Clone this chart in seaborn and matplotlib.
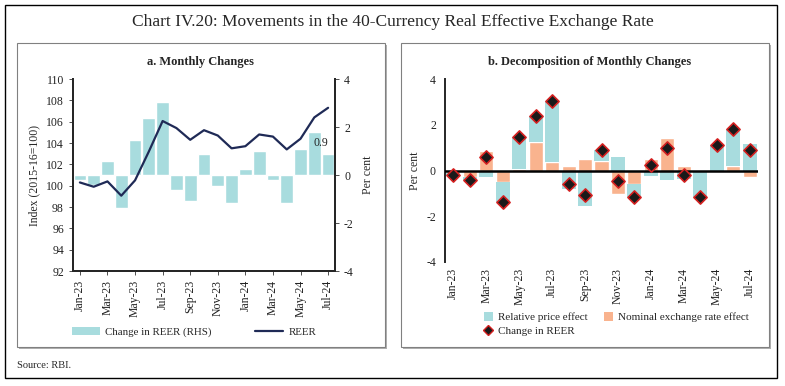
import numpy as np
import pandas as pd
import matplotlib
matplotlib.use("Agg")
import matplotlib.pyplot as plt
from matplotlib.patches import Rectangle
from matplotlib.lines import Line2D
from matplotlib.patches import Patch
import seaborn as sns

months = ["Jan-23", "Feb-23", "Mar-23", "Apr-23", "May-23", "Jun-23", "Jul-23",
          "Aug-23", "Sep-23", "Oct-23", "Nov-23", "Dec-23", "Jan-24", "Feb-24",
          "Mar-24", "Apr-24", "May-24", "Jun-24", "Jul-24"]
reer = [100.3, 99.9, 100.4, 99.06, 100.5, 103.2, 106.06, 105.4, 104.3, 105.2,
        104.7, 103.5, 103.7, 104.8, 104.6, 103.4, 104.4, 106.4, 107.3]
reer_change = [-0.2, -0.4, 0.58, -1.37, 1.47, 2.37, 3.05, -0.61, -1.07, 0.88,
               -0.45, -1.18, 0.25, 0.99, -0.2, -1.15, 1.1, 1.8, 0.89]
price_effect = [-0.1, -0.1, -0.28, -0.85, 1.4, 1.12, 2.67, -0.8, -1.56, 0.47,
                0.58, -0.58, -0.25, -0.43, -0.39, -1.12, 1.1, 1.6, 1.16]
nominal_effect = [-0.1, -0.3, 0.86, -0.52, 0.07, 1.25, 0.38, 0.19, 0.5, 0.41,
                  -1.02, -0.6, 0.5, 1.42, 0.19, -0.03, 0.0, 0.2, -0.28]

TEAL = "#A8DCDE"
ORANGE = "#F9B38E"
NAVY = "#1F2A56"

sns.set_style("white")
plt.rcParams["font.family"] = ["Liberation Serif", "DejaVu Serif"]
plt.rcParams["axes.unicode_minus"] = False

df = pd.DataFrame({"month": months, "pos": np.arange(len(months)), "reer": reer,
                   "change": reer_change, "price": price_effect, "nominal": nominal_effect})
# stacked bottoms for the relative price bar (diverging stack)
df["price_bottom"] = np.where(np.sign(df["price"]) == np.sign(df["nominal"]), df["nominal"], 0.0)

fig = plt.figure(figsize=(7.85, 3.86), dpi=100)

# frames
fig.patches.append(Rectangle((5 / 785, 1 - 378 / 386), 772 / 785, 373 / 386, transform=fig.transFigure,
                             fill=False, edgecolor="black", linewidth=1.0, zorder=-3))
for x0 in (17, 401):
    fig.patches.append(Rectangle(((x0 + 2) / 785, 1 - 349 / 386), 368 / 785, 304 / 386, transform=fig.transFigure,
                                 fill=True, facecolor="#B0B0B0", edgecolor="none", zorder=-2))
    fig.patches.append(Rectangle((x0 / 785, 1 - 347 / 386), 368 / 785, 304 / 386, transform=fig.transFigure,
                                 fill=True, facecolor="white", edgecolor="#808080", linewidth=0.8, zorder=-1))

fig.text(0.5, 1 - 22 / 386, "Chart IV.20: Movements in the 40-Currency Real Effective Exchange Rate",
         ha="center", va="center", fontsize=12.5)
fig.text(17 / 785, 1 - 365 / 386, "Source: RBI.", ha="left", va="center", fontsize=7.5)

fig.text(200 / 785, 1 - 62 / 386, "a. Monthly Changes", ha="center", va="center",
         fontsize=9, fontweight="bold")
fig.text(590 / 785, 1 - 62 / 386, "b. Decomposition of Monthly Changes", ha="center", va="center",
         fontsize=9, fontweight="bold")

tick_pos = list(range(0, len(months), 2))
tick_lab = [months[i] for i in tick_pos]

# ---- panel a
ax = fig.add_axes([73 / 785, 1 - 271 / 386, 262 / 785, 192 / 386])
ax2 = ax.twinx()
sns.barplot(data=df, x="pos", y="change", color=TEAL, width=0.92, saturation=1,
            native_scale=True, ax=ax2)
sns.lineplot(data=df, x="pos", y="reer", color=NAVY, linewidth=1.6, ax=ax)
ax.set_zorder(ax2.get_zorder() + 1)
ax.patch.set_visible(False)
ax.set_ylim(92, 110)
ax.set_yticks(range(92, 111, 2))
ax2.set_ylim(-4, 4)
ax2.set_yticks([-4, -2, 0, 2, 4])
ax.set_xlim(-0.5, 18.5)
ax.set_xticks(tick_pos)
ax.set_xticklabels(tick_lab, rotation=90)
ax.set_xlabel("")
ax.set_ylabel("Index (2015-16=100)", fontsize=8.5)
ax2.set_ylabel("Per cent", fontsize=8.5, labelpad=6)
ax2.set_xlabel("")
for a in (ax, ax2):
    a.spines["top"].set_visible(False)
    for s in a.spines.values():
        s.set_linewidth(1.4)
    a.tick_params(labelsize=8.5, length=3, width=0.6, colors="#333333", labelcolor="#222222")
ax.tick_params(axis="y", left=True, right=False)
ax.tick_params(axis="x", bottom=True)
ax2.tick_params(axis="y", right=True)
ax.text(18, 104, "0.9", ha="right", va="center", fontsize=8.5, color="#222222")

handles = [Patch(facecolor=TEAL, edgecolor="none"), Line2D([], [], color=NAVY, linewidth=1.6)]
fig.legend(handles, ["Change in REER (RHS)", "REER"], loc="center", ncol=2,
           bbox_to_anchor=(194 / 785, 1 - 332 / 386), frameon=False, fontsize=7.8,
           handlelength=2.6, columnspacing=4.0, handleheight=0.7, handletextpad=0.5)

# ---- panel b
bx = fig.add_axes([445 / 785, 1 - 262 / 386, 313 / 785, 183 / 386])
sns.barplot(data=df, x="pos", y="nominal", color=ORANGE, width=0.85, saturation=1,
            native_scale=True, ax=bx)
bx.bar(df["pos"], df["price"], width=0.85, bottom=df["price_bottom"], color=TEAL, linewidth=0)
bx.axhline(0, color="black", linewidth=1.8, zorder=3)
sns.scatterplot(data=df, x="pos", y="change", marker="D", s=45, color="#1A1A1A",
                edgecolor="#D42020", linewidth=1.2, zorder=4, ax=bx)
bx.set_ylim(-4, 4)
bx.set_yticks([-4, -2, 0, 2, 4])
bx.set_xlim(-0.5, 18.5)
bx.set_xticks(tick_pos)
bx.set_xticklabels(tick_lab, rotation=90)
bx.set_xlabel("")
bx.set_ylabel("Per cent", fontsize=8.5)
for s in ("top", "right", "bottom"):
    bx.spines[s].set_visible(False)
bx.spines["left"].set_linewidth(1.4)
bx.tick_params(labelsize=8.5, length=3, width=0.6, colors="#333333", labelcolor="#222222")
bx.tick_params(axis="x", length=0, pad=4)

handles_b = [Patch(facecolor=TEAL, edgecolor="none"),
             Line2D([], [], marker="D", linestyle="none", markersize=5, markerfacecolor="#1A1A1A",
                    markeredgecolor="#D42020"),
             Patch(facecolor=ORANGE, edgecolor="none")]
fig.legend(handles_b, ["Relative price effect", "Change in REER", "Nominal exchange rate effect"],
           loc="upper left", ncol=2, bbox_to_anchor=(474 / 785, 1 - 302 / 386), frameon=False,
           fontsize=8, handlelength=0.8, handleheight=0.8, columnspacing=1.4,
           handletextpad=0.5, labelspacing=0.3)

fig.savefig("out.png", dpi=100)
